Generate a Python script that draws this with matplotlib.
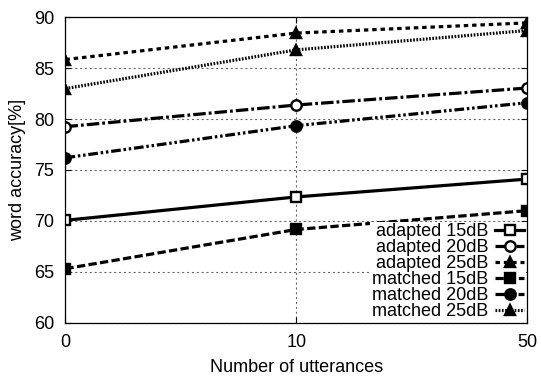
import matplotlib
matplotlib.use("Agg")
import matplotlib.pyplot as plt

plt.rcParams['font.family'] = ['Liberation Sans', 'DejaVu Sans']
plt.rcParams['lines.scale_dashes'] = False

utterances = ["0", "10", "50"]
labels = ["adapted 15dB", "adapted 20dB", "adapted 25dB",
          "matched 15dB", "matched 20dB", "matched 25dB"]
adapted_15 = [70.05, 72.35, 74.1]
adapted_20 = [79.25, 81.38, 83.05]
adapted_25 = [85.85, 88.45, 89.45]
matched_15 = [65.3, 69.15, 71.0]
matched_20 = [76.2, 79.35, 81.6]
matched_25 = [83.0, 86.8, 88.7]

series = [adapted_15, adapted_20, adapted_25, matched_15, matched_20, matched_25]
styles = [
    dict(ls='-', marker='s', mfc='white', ms=7.5),
    dict(ls=(0, (9, 2.2, 2, 2.2)), marker='o', mfc='white', ms=7.5),
    dict(ls=(0, (3.2, 2.8)), marker='^', mfc='black', ms=7.5),
    dict(ls=(0, (6, 2.4)), marker='s', mfc='black', ms=7.5),
    dict(ls=(0, (7, 2, 1.8, 2, 1.8, 2)), marker='o', mfc='black', ms=7.5),
    dict(ls=(0, (1.2, 1.1)), marker='^', mfc='black', ms=7.5),
]

fig = plt.figure(figsize=(5.41, 3.76), dpi=100)
ax = fig.add_axes([0.121, 0.142, 0.853, 0.812])
x = list(range(len(utterances)))
for vals, lab, st in zip(series, labels, styles):
    ax.plot(x, vals, color='black', lw=2.3, ls=st['ls'], marker=st['marker'],
            mfc=st['mfc'], mec='black', mew=1.7, ms=st['ms'], label=lab,
            dash_capstyle='butt')

ax.set_xlim(0, 2)
ax.set_ylim(60, 90)
ax.set_xticks(x)
ax.set_xticklabels(utterances)
ax.set_yticks([60, 65, 70, 75, 80, 85, 90])
ax.tick_params(axis='both', direction='in', labelsize=13, top=True, right=True,
               length=4, width=0.8, pad=8)
ax.grid(True, color='#666666', ls=(0, (1.5, 2)), lw=0.8)
for sp in ax.spines.values():
    sp.set_linewidth(0.9)
ax.set_xlabel("Number of utterances", fontsize=13, labelpad=6)
ax.set_ylabel("word accuracy[%]", fontsize=13, labelpad=6)

leg = ax.legend(loc='lower right', fontsize=13, markerfirst=False, frameon=True,
                fancybox=False, edgecolor='none', facecolor='white', framealpha=1,
                borderpad=0.1, borderaxespad=0.05, labelspacing=-0.06,
                handlelength=1.6, handletextpad=0.4, numpoints=1)
for t in leg.get_texts():
    t.set_ha('right')
leg._legend_box.align = 'right'

fig.savefig("out.png", dpi=100)
